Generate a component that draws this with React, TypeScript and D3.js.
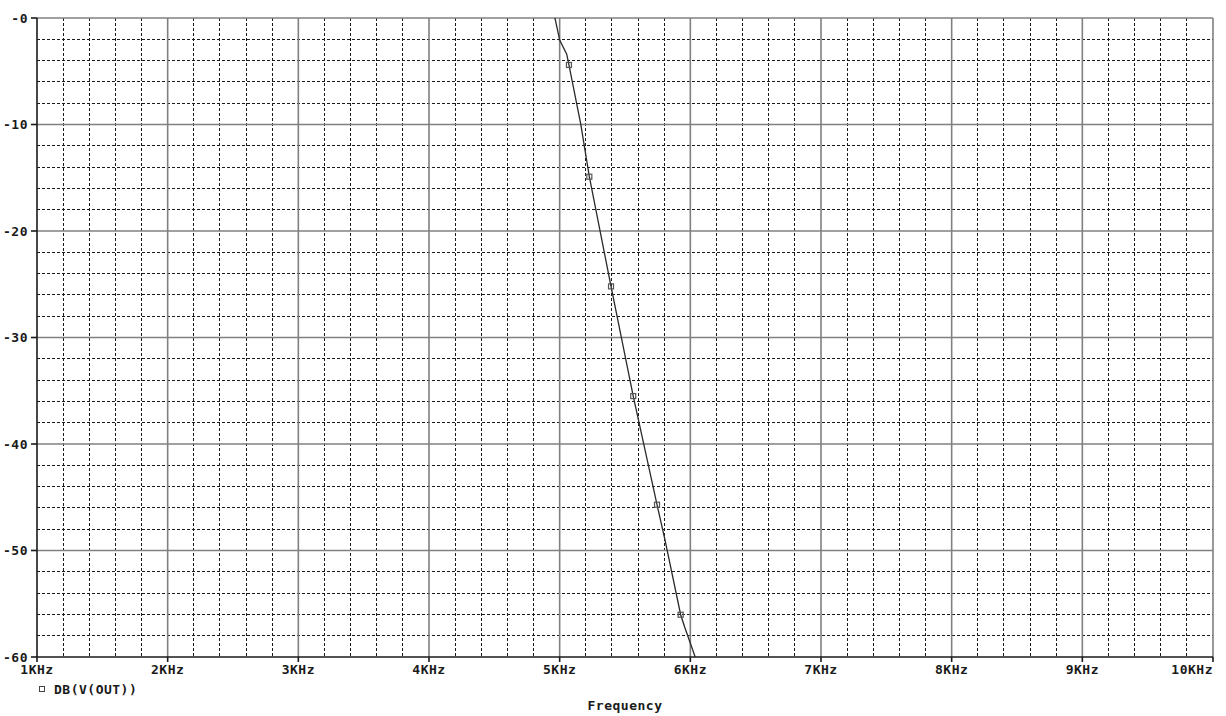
import React from 'react'
import * as d3 from 'd3'

// frequency in KHz, magnitude in dB
const curveFreq = [4.955, 4.964, 5.0, 5.054, 5.071, 5.161, 5.227, 5.393, 5.563, 5.745, 5.806, 5.926, 5.957, 6.038]
const curveDb = [0.6, 0, -2.07, -3.4, -4.41, -9.95, -14.9, -25.2, -35.5, -45.7, -49.0, -56.03, -57.2, -60.03]

const markerFreq = [5.071, 5.227, 5.393, 5.563, 5.745, 5.926]
const markerDb = [-4.41, -14.9, -25.2, -35.5, -45.7, -56.03]

const xTicks = [1, 2, 3, 4, 5, 6, 7, 8, 9, 10]
const xTickLabels = ['1KHz', '2KHz', '3KHz', '4KHz', '5KHz', '6KHz', '7KHz', '8KHz', '9KHz', '10KHz']
const yTicks = [0, -10, -20, -30, -40, -50, -60]
const yTickLabels = ['-0', '-10', '-20', '-30', '-40', '-50', '-60']

const traceName = 'DB(V(OUT))'
const xTitle = 'Frequency'

const W = 1226
const H = 716
const margin = { top: 18, right: 13, bottom: 59, left: 37 }

const font = "'DejaVu Sans Mono', monospace"

export default function App() {
  const x = d3.scaleLinear().domain([1, 10]).range([margin.left, W - margin.right])
  const y = d3.scaleLinear().domain([-60, 0]).range([H - margin.bottom, margin.top])

  const minorX = d3.range(1, 10.001, 0.2).filter((v) => Math.abs(v - Math.round(v)) > 0.01)
  const minorY = d3.range(-60, 0.001, 2).filter((v) => v % 10 !== 0)

  const pts: [number, number][] = curveFreq.map((f, i) => [f, curveDb[i]])
  const line = d3
    .line<[number, number]>()
    .x((d) => x(d[0]))
    .y((d) => y(d[1]))

  const x0 = x(1)
  const x1 = x(10)
  const y0 = y(0)
  const y1 = y(-60)

  return (
    <svg width={W} height={H} style={{ position: 'absolute', left: 0, top: 0, background: '#fff' }}>
      <defs>
        <clipPath id="plot">
          <rect x={x0} y={y0} width={x1 - x0} height={y1 - y0} />
        </clipPath>
      </defs>
      {/* minor grid */}
      <g stroke="#1a1a1a" strokeWidth={1} strokeDasharray="3,2" shapeRendering="crispEdges">
        {minorX.map((v) => (
          <line key={'mx' + v} x1={x(v)} x2={x(v)} y1={y0} y2={y1} />
        ))}
        {minorY.map((v) => (
          <line key={'my' + v} x1={x0} x2={x1} y1={y(v)} y2={y(v)} />
        ))}
      </g>
      {/* major grid */}
      <g stroke="#808080" strokeWidth={1.6}>
        {xTicks.slice(1, -1).map((v) => (
          <line key={'Mx' + v} x1={x(v)} x2={x(v)} y1={y0} y2={y1} />
        ))}
        {yTicks.slice(1, -1).map((v) => (
          <line key={'My' + v} x1={x0} x2={x1} y1={y(v)} y2={y(v)} />
        ))}
        <line x1={x0} x2={x1} y1={y0} y2={y0} />
        <line x1={x1} x2={x1} y1={y0} y2={y1} />
      </g>
      {/* axes */}
      <g stroke="#1a1a1a" strokeWidth={1.6}>
        <line x1={x0} x2={x0} y1={y0} y2={y1} />
        <line x1={x0} x2={x1} y1={y1} y2={y1} />
        {xTicks.map((v) => (
          <line key={'tx' + v} x1={x(v)} x2={x(v)} y1={y1} y2={y1 + 5} />
        ))}
        {yTicks.map((v) => (
          <line key={'ty' + v} x1={x0 - 6} x2={x0} y1={y(v)} y2={y(v)} />
        ))}
      </g>
      {/* trace */}
      <g clipPath="url(#plot)">
        <path d={line(pts) ?? ''} fill="none" stroke="#2a2a2a" strokeWidth={1.3} />
        {markerFreq.map((f, i) => (
          <rect
            key={'m' + i}
            x={x(f) - 2.5}
            y={y(markerDb[i]) - 2.5}
            width={5}
            height={5}
            fill="none"
            stroke="#555"
            strokeWidth={1.2}
          />
        ))}
      </g>
      {/* labels */}
      <g fontFamily={font} fontWeight="bold" fontSize={13} fill="#1a1a1a" letterSpacing={0.5}>
        {yTicks.map((v, i) => (
          <text key={'ly' + v} x={x0 - 9} y={y(v)} dy="0.35em" textAnchor="end">
            {yTickLabels[i]}
          </text>
        ))}
        {xTicks.map((v, i) => (
          <text
            key={'lx' + v}
            x={x(v)}
            y={y1 + 17}
            textAnchor={i === xTicks.length - 1 ? 'end' : 'middle'}
          >
            {xTickLabels[i]}
          </text>
        ))}
        <rect x={39.5} y={686.5} width={5} height={5} fill="none" stroke="#444" strokeWidth={1} />
        <text x={54} y={689} dy="0.35em">
          {traceName}
        </text>
        <text x={(x0 + x1) / 2} y={705} dy="0.35em" textAnchor="middle">
          {xTitle}
        </text>
      </g>
    </svg>
  )
}
